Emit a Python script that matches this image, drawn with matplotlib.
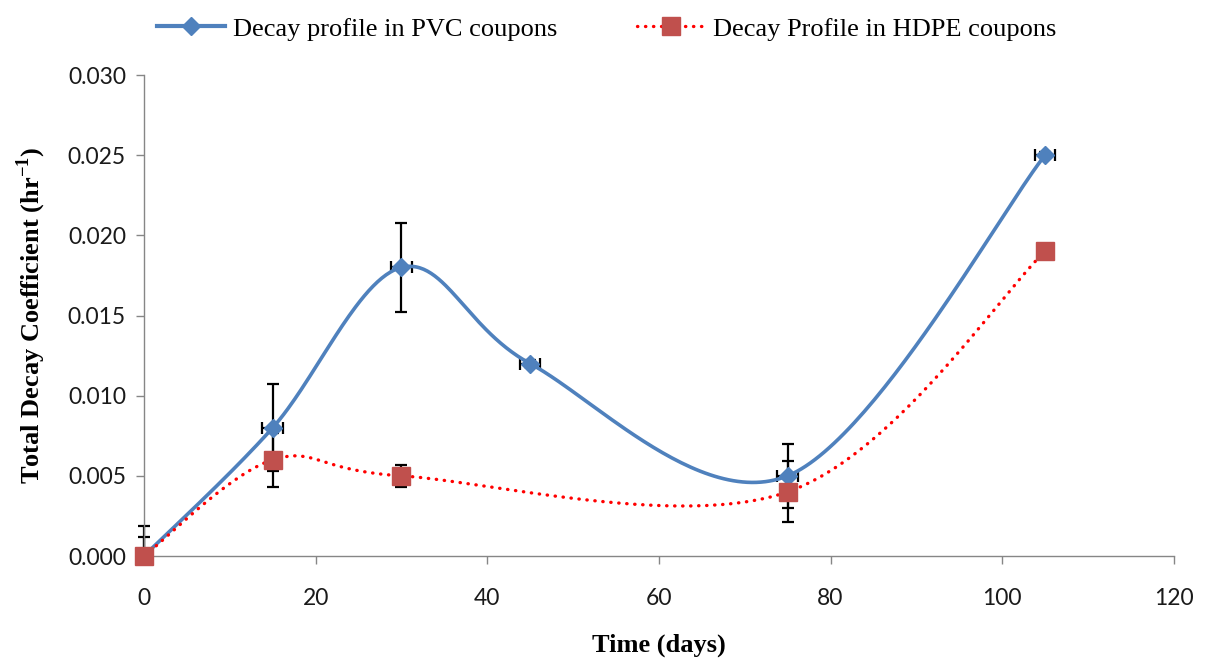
import numpy as np
import matplotlib
matplotlib.use("Agg")
import matplotlib.pyplot as plt

# ----------------------
# data
# ----------------------
days_pvc = [0, 15, 30, 45, 75, 105]
pvc = [0.0, 0.008, 0.018, 0.012, 0.005, 0.025]
pvc_err_lo = [0.0, 0.0027, 0.0028, 0.0002, 0.0020, 0.0002]
pvc_err_hi = [0.0019, 0.0027, 0.0028, 0.0002, 0.0020, 0.0002]
pvc_xerr = [0.0, 1.2, 1.2, 1.2, 1.2, 1.2]

days_hdpe = [0, 15, 30, 75, 105]
hdpe = [0.0, 0.006, 0.005, 0.004, 0.019]
hdpe_err_lo = [0.0, 0.0017, 0.0007, 0.0019, 0.0]
hdpe_err_hi = [0.0012, 0.0017, 0.0007, 0.0019, 0.0]

x_ticks = [0, 20, 40, 60, 80, 100, 120]
y_ticks = [0.000, 0.005, 0.010, 0.015, 0.020, 0.025, 0.030]

label_pvc = "Decay profile in PVC coupons"
label_hdpe = "Decay Profile in HDPE coupons"


def smooth(x, y, n=60):
    # Excel-style smoothed line: cubic Bezier through points, tangents from neighbours
    p = np.column_stack([x, y]).astype(float)
    ext = np.vstack([p[0], p, p[-1]])
    out = []
    t = np.linspace(0, 1, n)[:, None]
    for i in range(len(p) - 1):
        p0, p1 = ext[i + 1], ext[i + 2]
        c1 = p0 + (ext[i + 2] - ext[i]) / 6.0
        c2 = p1 - (ext[i + 3] - ext[i + 1]) / 6.0
        seg = ((1 - t) ** 3) * p0 + 3 * ((1 - t) ** 2) * t * c1 + 3 * (1 - t) * t ** 2 * c2 + t ** 3 * p1
        out.append(seg if i == 0 else seg[1:])
    out = np.vstack(out)
    return out[:, 0], out[:, 1]


serif = "Liberation Serif"
sans = "Lato"
plt.rcParams["mathtext.fontset"] = "custom"
plt.rcParams["mathtext.rm"] = serif
plt.rcParams["mathtext.bf"] = serif + ":bold"

fig = plt.figure(figsize=(12.13, 6.58), dpi=100)
ax = fig.add_axes([0.1187, 0.155, 0.849, 0.731])

blue = "#4F81BD"
red_line = "#FF0000"
red_mark = "#C0504D"

# error bars (behind markers)
eb1 = ax.errorbar(days_pvc, pvc, yerr=[pvc_err_lo, pvc_err_hi], xerr=pvc_xerr, fmt="none",
                  ecolor="black", elinewidth=1.6, capsize=4.5, capthick=1.6, zorder=2)
eb2 = ax.errorbar(days_hdpe, hdpe, yerr=[hdpe_err_lo, hdpe_err_hi], fmt="none", ecolor="black",
                  elinewidth=1.6, capsize=4.5, capthick=1.6, zorder=2)
for eb in (eb1, eb2):
    for art in eb.lines[1] + eb.lines[2]:
        art.set_clip_on(False)

sx, sy = smooth(days_pvc, pvc)
ax.plot(sx, sy, color=blue, lw=2.6, solid_capstyle="round", zorder=3)
ax.plot(days_pvc, pvc, ls="none", marker="D", ms=9, color=blue, zorder=4, clip_on=False)

hx, hy = smooth(days_hdpe, hdpe)
ax.plot(hx, hy, color=red_line, lw=2.4, ls=(0, (0.1, 2.3)), dash_capstyle="round", zorder=3)
ax.plot(days_hdpe, hdpe, ls="none", marker="s", ms=13, color=red_mark, zorder=5, clip_on=False)

ax.set_xlim(0, 120)
ax.set_ylim(0, 0.030)
ax.set_xticks(x_ticks)
ax.set_yticks(y_ticks)
ax.set_yticklabels([f"{v:.3f}" for v in y_ticks])

for s in ["top", "right"]:
    ax.spines[s].set_visible(False)
for s in ["left", "bottom"]:
    ax.spines[s].set_color("#868686")
    ax.spines[s].set_linewidth(1.0)

ax.tick_params(axis="both", direction="out", color="#868686", length=6, width=1.0,
               labelsize=16.5, labelcolor="#1a1a1a")
ax.tick_params(axis="x", pad=17)
ax.tick_params(axis="y", pad=7)
for lab in ax.get_xticklabels() + ax.get_yticklabels():
    lab.set_fontfamily(sans)

ax.set_xlabel("Time (days)", fontfamily=serif, fontweight="bold", fontsize=19, labelpad=18)
ax.set_ylabel(r"Total Decay Coefficient (hr$^{\mathbf{-1}}$)", fontfamily=serif,
              fontweight="bold", fontsize=19, labelpad=14)

h1, = ax.plot([], [], color=blue, lw=3, marker="D", ms=9)
h2, = ax.plot([], [], color=red_line, lw=2.4, ls=(0, (0.1, 2.3)), dash_capstyle="round",
              marker="s", ms=13, markerfacecolor=red_mark, markeredgecolor=red_mark)
fig.legend([h1, h2], [label_pvc, label_hdpe], loc="upper center", bbox_to_anchor=(0.5, 1.01),
           ncol=2, frameon=False, handlelength=2.6, handletextpad=0.3, columnspacing=3.0,
           prop={"family": serif, "size": 19})

fig.savefig("out.png", dpi=100)
